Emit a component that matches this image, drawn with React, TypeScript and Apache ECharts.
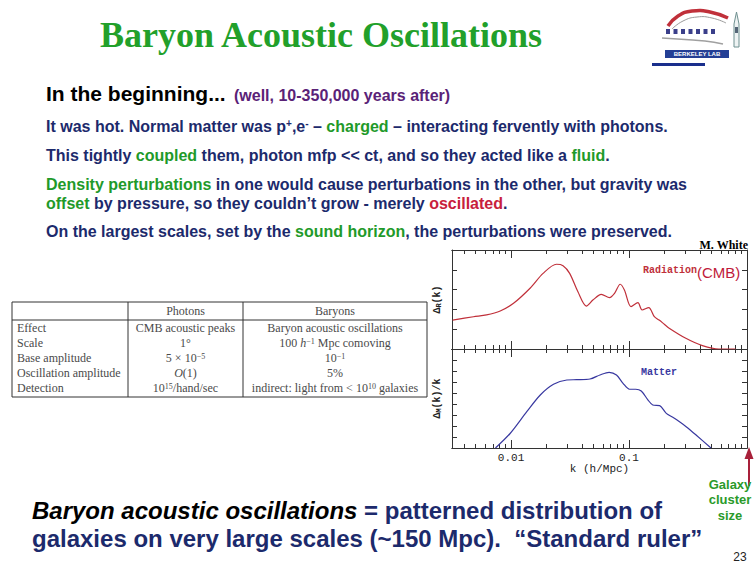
import React, { useEffect, useRef } from "react";
import * as echarts from "echarts";

// ---------------- data ----------------
const radiationK = [0.0032, 0.0048, 0.0062, 0.0081, 0.0105, 0.0145, 0.0187, 0.0243, 0.0276, 0.0314, 0.0369, 0.0435, 0.0494, 0.0582, 0.0684, 0.0754, 0.0842, 0.0914, 0.104, 0.119, 0.129, 0.147, 0.164, 0.18, 0.199, 0.219, 0.303, 0.419, 0.579, 0.8];
const radiationAmp = [1.46, 1.63, 1.72, 1.92, 2.31, 3.07, 3.82, 4.28, 4.21, 3.82, 2.89, 2.17, 2.47, 2.76, 2.59, 2.81, 3.27, 2.98, 2.14, 2.34, 1.97, 2.09, 1.63, 1.46, 1.25, 1.05, 0.54, 0.17, 0.0, 0.0];
const matterK = [0.00738, 0.00986, 0.0136, 0.0177, 0.0229, 0.0297, 0.036, 0.0467, 0.0567, 0.0678, 0.0783, 0.089, 0.101, 0.114, 0.127, 0.145, 0.159, 0.182, 0.207, 0.235, 0.268, 0.305, 0.37, 0.495];
const matterAmp = [0, 1.34, 3.3, 4.82, 5.79, 6.18, 6.21, 6.27, 6.64, 6.88, 6.64, 5.88, 5.34, 5.34, 5.18, 4.36, 3.91, 3.85, 3.15, 2.79, 2.39, 1.94, 1.18, 0];

const kRange = [0.00316, 1];
const kMajorTicks = [0.01, 0.1, 1];
const kMinorTicks = [0.004, 0.005, 0.006, 0.007, 0.008, 0.009, 0.02, 0.03, 0.04, 0.05, 0.06, 0.07, 0.08, 0.09, 0.2, 0.3, 0.4, 0.5, 0.6, 0.7, 0.8, 0.9];
const kLabelValues = [0.01, 0.1];
const kLabelTexts = ["0.01", "0.1"];
const radiationRange = [0, 5];
const matterRange = [0, 9];

const tableHeader = ["", "Photons", "Baryons"];
const tableRowNames = ["Effect", "Scale", "Base amplitude", "Oscillation amplitude", "Detection"];
const tablePhotons = ["CMB acoustic peaks", "1°", "5 × 10{sup|−5}", "{cal|O}(1)", "10{sup|15}/hand/sec"];
const tableBaryons = ["Baryon acoustic oscillations", "100 {it|h}{sup|−1} Mpc comoving", "10{sup|−1}", "5%", "indirect: light from < 10{sup|10} galaxies"];

const titleText = "Baryon Acoustic Oscillations";
const bodyLines = [
  "It was hot. Normal matter was p{sup|+},e{sup|-} – {g|charged} – interacting fervently with photons.",
  "This tightly {g|coupled} them, photon mfp << ct, and so they acted like a {g|fluid}.",
  "{g|Density perturbations} in one would cause perturbations in the other, but gravity was",
  "{g|offset} by pressure, so they couldn’t grow - merely {r|oscillated}.",
  "On the largest scales, set by the {g|sound horizon}, the perturbations were preserved.",
];
const bottomLines = [
  "{bi|Baryon acoustic oscillations} = patterned distribution of",
  "galaxies on very large scales (~150 Mpc).  “Standard ruler”",
];

// ---------------- styles ----------------
const NAVY = "#1c2a6c";
const GREEN = "#1f9a2a";
const RED = "#c8203c";
const PURPLE = "#5a2277";
const AX = "#333333";
const SANS = "'Liberation Sans', Arial, sans-serif";
const SERIF = "'Liberation Serif', 'Times New Roman', serif";
const MONO = "'Liberation Mono', 'DejaVu Sans Mono', monospace";

function txt(x: number, y: number, text: string, font: string, fill: string, extra: any = {}) {
  const align = extra.align || "left";
  return {
    type: "text",
    x,
    y,
    silent: true,
    z: 10,
    style: {
      text,
      font,
      fill,
      align,
      textAlign: align,
      verticalAlign: "middle",
      textVerticalAlign: "middle",
      rich: extra.rich,
      lineHeight: extra.lineHeight,
    },
  };
}

function xAxisFor(gridIndex: number, position: string, ticks: number[], len: number, extra: any = {}) {
  return {
    type: "log",
    logBase: 10,
    gridIndex,
    position,
    min: kRange[0],
    max: kRange[1],
    axisLine: { show: true, onZero: false, lineStyle: { color: AX, width: 1 } },
    axisTick: { show: true, inside: true, length: len, customValues: ticks, lineStyle: { color: AX, width: 1 } },
    axisLabel: { show: false },
    splitLine: { show: false },
    minorTick: { show: false },
    ...extra,
  };
}

function yAxisFor(gridIndex: number, position: string, range: number[], extra: any = {}) {
  return {
    type: "value",
    gridIndex,
    position,
    min: range[0],
    max: range[1],
    interval: 1,
    axisLine: { show: true, onZero: false, lineStyle: { color: AX, width: 1 } },
    axisTick: { show: true, inside: true, length: 5, lineStyle: { color: AX, width: 1 } },
    axisLabel: { show: false },
    splitLine: { show: false },
    ...extra,
  };
}

function labelFor(v: number) {
  for (let i = 0; i < kLabelValues.length; i++) {
    if (Math.abs(Math.log10(v) - Math.log10(kLabelValues[i])) < 0.01) return kLabelTexts[i];
  }
  return "";
}

function buildGraphic() {
  const g: any[] = [];
  const bodyFont = `bold 16px ${SANS}`;
  const bodyRich = {
    g: { fill: GREEN },
    r: { fill: RED },
    sup: { fontSize: 10, fontWeight: "bold", fontFamily: SANS, verticalAlign: "top" },
  };
  // title
  g.push(txt(100, 35, titleText, `bold 36px ${SERIF}`, "#22a02a"));
  // logo
  g.push({ type: "polyline", silent: true, shape: { points: [[668, 26], [678, 16], [692, 11], [710, 12], [728, 18]], smooth: 0.5 }, style: { stroke: "#c0303a", lineWidth: 3.5, fill: null } });
  g.push({ type: "polyline", silent: true, shape: { points: [[672, 29], [683, 21], [697, 17], [712, 18], [726, 23]], smooth: 0.5 }, style: { stroke: "#9a9a9a", lineWidth: 1, fill: null } });
  for (let i = 0; i < 7; i++) {
    g.push({ type: "rect", silent: true, shape: { x: 666 + i * 7.5, y: 29, width: 4, height: 5 }, style: { fill: "#3a3f8a" } });
  }
  g.push({ type: "polyline", silent: true, shape: { points: [[662, 38], [685, 39.5], [705, 41], [723, 44]], smooth: 0.5 }, style: { stroke: "#a0a0a0", lineWidth: 1.5, fill: null } });
  g.push({ type: "rect", silent: true, shape: { x: 665, y: 50, width: 64, height: 8 }, style: { fill: "#243f95" } });
  g.push(txt(697, 54, "BERKELEY LAB", `bold 6px ${SANS}`, "#ffffff", { align: "center" }));
  g.push({ type: "polygon", silent: true, shape: { points: [[734, 47], [734, 24], [736.5, 12], [739, 24], [739, 47]] }, style: { fill: "#eef3f3", stroke: "#6f9090", lineWidth: 1 } });
  g.push({ type: "rect", silent: true, shape: { x: 735, y: 27, width: 3, height: 6 }, style: { fill: "#556677" } });
  g.push({ type: "rect", silent: true, shape: { x: 652, y: 63, width: 53, height: 3 }, style: { fill: "#1a2f8c" } });

  // headings
  g.push(txt(46, 93, "In the beginning...", `bold 21px ${SANS}`, "#000000"));
  g.push(txt(234, 95, "(well, 10-350,000 years after)", `bold 16px ${SANS}`, PURPLE));
  const bodyY = [126, 155, 184, 203, 231];
  bodyLines.forEach((l, i) => g.push(txt(46, bodyY[i], l, bodyFont, NAVY, { rich: bodyRich })));

  // bottom lines
  const botRich = { bi: { fill: "#000000", fontStyle: "italic", fontWeight: "bold", fontSize: 24, fontFamily: SANS } };
  const botY = [510, 538];
  bottomLines.forEach((l, i) => g.push(txt(32, botY[i], l, `bold 24px ${SANS}`, NAVY, { rich: botRich })));

  // table
  const tL = 12, tR = 427, tT = 302, tH = 320, tB = 397, c1 = 128, c2 = 243;
  g.push({ type: "rect", silent: true, shape: { x: tL, y: tT, width: tR - tL, height: tB - tT }, style: { fill: "#ffffff", stroke: "#333", lineWidth: 1 } });
  g.push({ type: "line", silent: true, shape: { x1: tL, y1: tH, x2: tR, y2: tH }, style: { stroke: "#333", lineWidth: 1 } });
  g.push({ type: "line", silent: true, shape: { x1: c1, y1: tT, x2: c1, y2: tB }, style: { stroke: "#333", lineWidth: 1 } });
  g.push({ type: "line", silent: true, shape: { x1: c2, y1: tT, x2: c2, y2: tB }, style: { stroke: "#333", lineWidth: 1 } });
  const tFont = `12px ${SERIF}`;
  const tFill = "#4a4a4a";
  const tRich = {
    sup: { fontSize: 8, fontFamily: SERIF, verticalAlign: "top" },
    it: { fontStyle: "italic", fontSize: 12, fontFamily: SERIF },
    cal: { fontStyle: "italic", fontSize: 12, fontFamily: SERIF },
  };
  const hY = (tT + tH) / 2;
  g.push(txt((c1 + c2) / 2, hY, tableHeader[1], tFont, tFill, { align: "center" }));
  g.push(txt((c2 + tR) / 2, hY, tableHeader[2], tFont, tFill, { align: "center" }));
  tableRowNames.forEach((name, i) => {
    const y = 328 + i * 15;
    g.push(txt(17, y, name, tFont, tFill));
    g.push(txt((c1 + c2) / 2, y, tablePhotons[i], tFont, tFill, { align: "center", rich: tRich }));
    g.push(txt((c2 + tR) / 2, y, tableBaryons[i], tFont, tFill, { align: "center", rich: tRich }));
  });

  // chart annotations
  g.push(txt(748, 245, "M. White", `bold 12px ${SERIF}`, "#000000", { align: "right" }));
  g.push(txt(643, 270, "Radiation", `bold 10px ${MONO}`, "#c0303a"));
  g.push(txt(697, 272, "(CMB)", `15px ${SANS}`, "#c01a3a"));
  g.push(txt(641, 372, "Matter", `bold 10px ${MONO}`, "#3838a0"));

  // arrow
  g.push({ type: "line", silent: true, shape: { x1: 749, y1: 486, x2: 749, y2: 456 }, style: { stroke: "#a8203a", lineWidth: 2 } });
  g.push({ type: "polygon", silent: true, shape: { points: [[744.5, 459], [753.5, 459], [749, 447]] }, style: { fill: "#a8203a" } });

  const galFont = `bold 13px ${SANS}`;
  ["Galaxy", "cluster", "size"].forEach((w, i) => g.push(txt(730, 484 + i * 15.5, w, galFont, "#2a9a2a", { align: "center" })));
  g.push(txt(740, 557, "23", `12px ${SANS}`, "#222222", { align: "center" }));
  return g;
}

export default function App() {
  const ref = useRef<HTMLDivElement>(null);
  useEffect(() => {
    if (!ref.current) return;
    const chart = echarts.init(ref.current, undefined, { renderer: "svg" });
    const nameStyle = {
      fontFamily: MONO,
      fontSize: 10,
      fontWeight: "bold",
      color: "#222",
      rich: {
        s: { fontFamily: MONO, fontSize: 7, fontWeight: "bold", verticalAlign: "bottom", color: "#222" },
      },
    };
    const option: any = {
      animation: false,
      backgroundColor: "#ffffff",
      grid: [
        { left: 452, top: 250, width: 295, height: 99, outerBoundsMode: "none", containLabel: false },
        { left: 452, top: 349, width: 295, height: 99, outerBoundsMode: "none", containLabel: false },
      ],
      xAxis: [
        xAxisFor(0, "bottom", kMajorTicks, 8),
        xAxisFor(0, "bottom", kMinorTicks, 4),
        xAxisFor(0, "top", kMajorTicks, 8),
        xAxisFor(0, "top", kMinorTicks, 4),
        xAxisFor(1, "bottom", kMajorTicks, 8, {
          axisLabel: {
            show: true,
            customValues: kLabelValues,
            formatter: (v: number) => labelFor(v),
            fontFamily: MONO,
            fontSize: 11,
            color: "#222",
            margin: 4,
          },
          name: "k (h/Mpc)",
          nameLocation: "middle",
          nameGap: 15,
          nameTextStyle: { fontFamily: MONO, fontSize: 11, color: "#222" },
        }),
        xAxisFor(1, "bottom", kMinorTicks, 4),
        xAxisFor(1, "top", kMajorTicks, 8),
        xAxisFor(1, "top", kMinorTicks, 4),
      ],
      yAxis: [
        yAxisFor(0, "left", radiationRange, {
          name: "Δ{s|R}(k)",
          nameLocation: "middle",
          nameRotate: 90,
          nameGap: 10,
          nameTextStyle: nameStyle,
        }),
        yAxisFor(0, "right", radiationRange),
        yAxisFor(1, "left", matterRange, {
          name: "Δ{s|M}(k)/k",
          nameLocation: "middle",
          nameRotate: 90,
          nameGap: 10,
          nameTextStyle: nameStyle,
        }),
        yAxisFor(1, "right", matterRange),
      ],
      series: [
        {
          type: "line",
          name: "Radiation",
          xAxisIndex: 0,
          yAxisIndex: 0,
          data: radiationK.map((k, i) => [k, radiationAmp[i]]),
          smooth: 0.3,
          showSymbol: false,
          symbol: "none",
          lineStyle: { color: "#c0303a", width: 1.2 },
          clip: true,
        },
        {
          type: "line",
          name: "Matter",
          xAxisIndex: 4,
          yAxisIndex: 2,
          data: matterK.map((k, i) => [k, matterAmp[i]]),
          smooth: 0.3,
          showSymbol: false,
          symbol: "none",
          lineStyle: { color: "#3838a0", width: 1.2 },
          clip: true,
        },
      ],
      graphic: { elements: buildGraphic() },
    };
    chart.setOption(option);
    return () => chart.dispose();
  }, []);
  return (
    <div
      ref={ref}
      style={{ position: "absolute", left: 0, top: 0, width: 756, height: 576, background: "#ffffff" }}
    />
  );
}
